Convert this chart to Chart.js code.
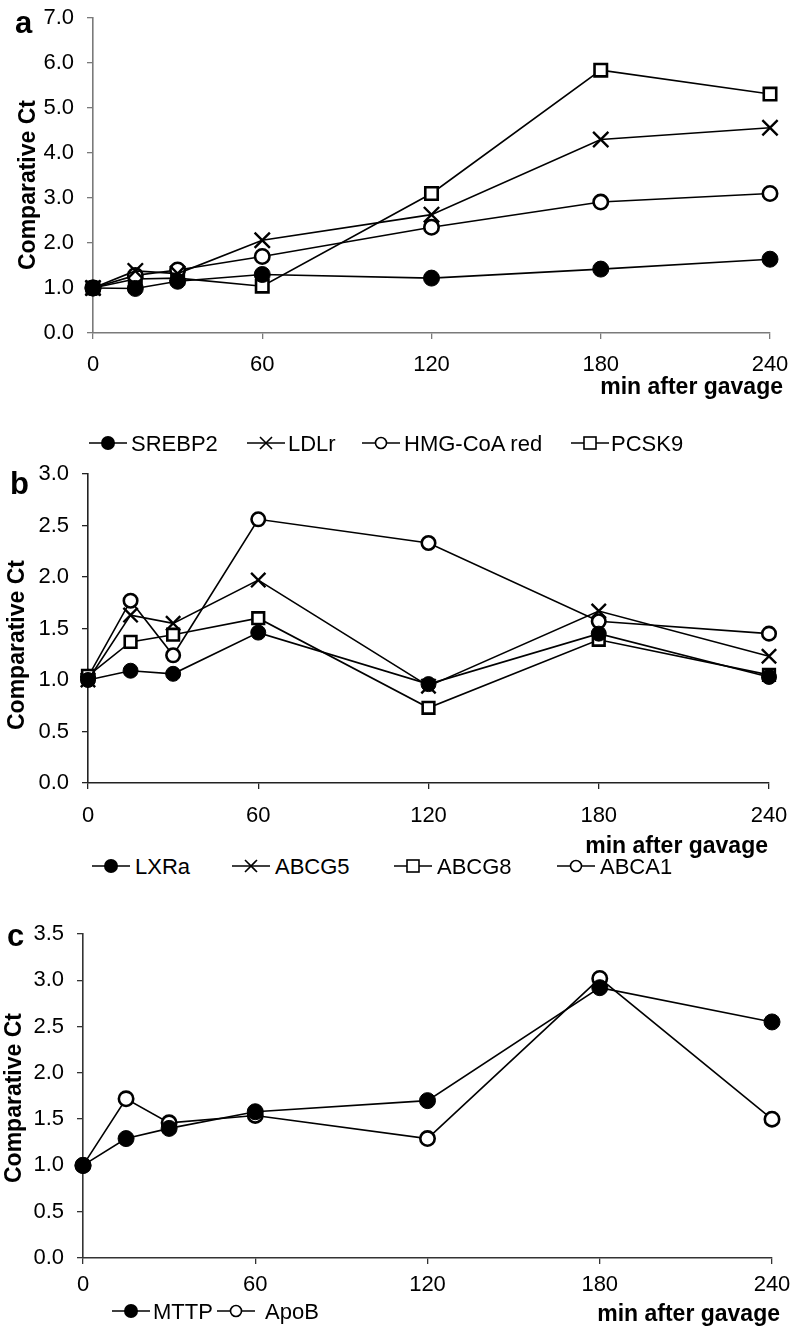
<!DOCTYPE html>
<html>
<head>
<meta charset="utf-8">
<script src="https://cdn.jsdelivr.net/npm/chart.js@4.4.0/dist/chart.umd.min.js"></script>
<style>
  html, body { margin: 0; padding: 0; background: #fff; overflow: hidden; }
  body { width: 793px; height: 1330px; position: relative;
         font-family: "Liberation Sans", Arial, sans-serif; color: #000; }
  canvas { position: absolute; left: 0; }
  .t { position: absolute; white-space: nowrap; line-height: 1; font-size: 22px; }
  .xt { position: absolute; white-space: nowrap; line-height: 1; font-size: 23px; font-weight: bold; }
  .yt { position: absolute; white-space: nowrap; line-height: 1; font-size: 23px; font-weight: bold;
        transform: translate(-50%, -50%) rotate(-90deg); }
  .L { position: absolute; font-weight: bold; font-size: 31px; line-height: 1; }
  svg { position: absolute; }
</style>
</head>
<body>
<canvas id="ca" width="840" height="420" style="top:-20px"></canvas>
<canvas id="cb" width="840" height="400" style="top:440px"></canvas>
<canvas id="cc" width="840" height="430" style="top:900px"></canvas>

<div class="L" style="left:15px;top:7px">a</div>
<div class="L" style="left:10px;top:468px">b</div>
<div class="L" style="left:7px;top:920px">c</div>

<div id="titles"></div>
<div id="legends"></div>

<script>
// ---------- data ----------
const times = [0, 15, 30, 60, 120, 180, 240];

// panel a
const aNames  = ['SREBP2', 'LDLr', 'HMG-CoA red', 'PCSK9'];
const srebp2  = [1.00, 0.99, 1.15, 1.30, 1.22, 1.42, 1.64];
const ldlr    = [1.00, 1.38, 1.32, 2.06, 2.63, 4.30, 4.56];
const hmgcoa  = [1.00, 1.28, 1.40, 1.70, 2.35, 2.91, 3.10];
const pcsk9   = [1.00, 1.20, 1.22, 1.04, 3.10, 5.84, 5.31];

// panel b
const bNames  = ['LXRa', 'ABCG5', 'ABCG8', 'ABCA1'];
const lxra    = [1.00, 1.09, 1.06, 1.46, 0.96, 1.45, 1.03];
const abcg5   = [1.00, 1.63, 1.55, 1.97, 0.94, 1.67, 1.23];
const abcg8   = [1.04, 1.37, 1.44, 1.60, 0.73, 1.39, 1.05];
const abca1   = [1.03, 1.77, 1.24, 2.56, 2.33, 1.57, 1.45];

// panel c
const cNames  = ['MTTP', 'ApoB'];
const mttp    = [1.00, 1.29, 1.40, 1.58, 1.70, 2.92, 2.55];
const apob    = [1.00, 1.72, 1.46, 1.54, 1.29, 3.02, 1.50];

const xLabelText = 'min after gavage';
const yLabelText = 'Comparative Ct';

// ---------- styling ----------
const FONT = '"Liberation Sans", Arial, sans-serif';

function markerStyle(kind, r) {
  if (kind === 'filled') return { pointStyle: 'circle', pointRadius: r, pointBackgroundColor: '#000', pointBorderColor: '#000', pointBorderWidth: 1 };
  if (kind === 'cross')  return { pointStyle: 'crossRot', pointRadius: r * 1.35, pointBackgroundColor: '#000', pointBorderColor: '#000', pointBorderWidth: 2.4 };
  if (kind === 'open')   return { pointStyle: 'circle', pointRadius: r * 0.9, pointBackgroundColor: '#fff', pointBorderColor: '#000', pointBorderWidth: 2.6 };
  if (kind === 'square') return { pointStyle: 'rect', pointRadius: r * 1.1, pointBackgroundColor: '#fff', pointBorderColor: '#000', pointBorderWidth: 2.6 };
}

function makeChart(id, names, series, kinds, cfg) {
  const datasets = names.map((n, i) => Object.assign({
    label: n,
    data: times.map((t, j) => ({ x: t, y: series[i][j] })),
    borderColor: '#000',
    borderWidth: 1.6,
    tension: 0,
    fill: false,
    clip: false,
    pointHoverRadius: 0
  }, markerStyle(kinds[i], cfg.r)));

  const cv = document.getElementById(id);
  const H = cv.height, W = cv.width;
  const X_H = 40;
  return new Chart(cv, {
    type: 'line',
    data: { datasets },
    options: {
      responsive: false,
      devicePixelRatio: 1,
      animation: false,
      events: [],
      layout: { padding: { left: 0, top: cfg.top, right: W - cfg.right, bottom: H - cfg.bottom - X_H } },
      plugins: { legend: { display: false }, tooltip: { enabled: false } },
      scales: {
        x: {
          type: 'linear', min: 0, max: 240,
          afterFit: s => { s.height = X_H; },
          ticks: { stepSize: 60, autoSkip: false, maxRotation: 0, color: '#000', padding: cfg.xPad,
                   font: { family: FONT, size: 22 } },
          grid: { drawOnChartArea: false, drawTicks: true, tickLength: 6, color: cfg.axis, lineWidth: 1.3 },
          border: { display: true, color: cfg.axis, width: 1.6 }
        },
        y: {
          type: 'linear', min: 0, max: cfg.yMax,
          afterFit: s => { s.width = cfg.left; },
          ticks: { stepSize: cfg.yStep, color: '#000', padding: 13,
                   callback: v => Number(v).toFixed(1),
                   font: { family: FONT, size: 22 } },
          grid: { drawOnChartArea: false, drawTicks: true, tickLength: 6, color: cfg.axis, lineWidth: 1.3 },
          border: { display: true, color: cfg.axis, width: 1.6 }
        }
      }
    }
  });
}

// canvas a top -20, b top 440, c top 900 (values below are canvas-relative)
makeChart('ca', aNames, [srebp2, ldlr, hmgcoa, pcsk9], ['filled', 'cross', 'open', 'square'],
  { left: 93, right: 770, top: 18 + 20, bottom: 333 + 20, yMax: 7, yStep: 1, axis: '#7a7a7a', r: 8, xPad: 13 });
makeChart('cb', bNames, [lxra, abcg5, abcg8, abca1], ['filled', 'cross', 'square', 'open'],
  { left: 88, right: 769, top: 474 - 440, bottom: 783 - 440, yMax: 3, yStep: 0.5, axis: '#222', r: 7.5, xPad: 14 });
makeChart('cc', cNames, [mttp, apob], ['filled', 'open'],
  { left: 83, right: 772, top: 934 - 900, bottom: 1258 - 900, yMax: 3.5, yStep: 0.5, axis: '#333', r: 8, xPad: 8 });

// ---------- axis titles ----------
const titleSpots = [
  // [x-title right edge, x-title top, y-title centre x, y-title centre y]
  [783, 375, 27, 185],
  [768, 834, 16, 645],
  [780, 1302, 13, 1098]
];
let th = '';
titleSpots.forEach(([xr, xtop, ycx, ycy]) => {
  th += `<div class="xt" style="right:${793 - xr}px;top:${xtop}px">${xLabelText}</div>`;
  th += `<div class="yt" style="left:${ycx}px;top:${ycy}px">${yLabelText}</div>`;
});
document.getElementById('titles').innerHTML = th;

// ---------- legends (line-through-marker swatches, HTML text) ----------
function swatch(kind) {
  const ln = '<line x1="0" y1="11" x2="38" y2="11" stroke="#000" stroke-width="1.6"/>';
  let m = '';
  if (kind === 'filled') m = '<circle cx="19" cy="11" r="7" fill="#000"/>';
  if (kind === 'open')   m = '<circle cx="19" cy="11" r="5.5" fill="#fff" stroke="#000" stroke-width="1.6"/>';
  if (kind === 'square') m = '<rect x="13" y="5" width="12" height="12" fill="#fff" stroke="#000" stroke-width="1.6"/>';
  if (kind === 'cross')  m = '<path d="M13 5 L25 17 M25 5 L13 17" stroke="#000" stroke-width="1.6"/>';
  return ln + m;
}
const legendItems = [
  // [name, kind, iconLeft, textLeft, top]
  [aNames[0], 'filled', 89, 131, 433], [aNames[1], 'cross', 247, 288, 433],
  [aNames[2], 'open', 362, 404, 433], [aNames[3], 'square', 571, 611, 433],
  [bNames[0], 'filled', 92, 135, 856], [bNames[1], 'cross', 232, 275, 856],
  [bNames[2], 'square', 394, 437, 856], [bNames[3], 'open', 557, 600, 856],
  [cNames[0], 'filled', 112, 153, 1301], [cNames[1], 'open', 217, 265, 1301]
];
let html = '';
legendItems.forEach(([n, k, il, tl, top]) => {
  html += `<svg width="38" height="22" style="left:${il}px;top:${top - 1}px">${swatch(k)}</svg>`;
  html += `<div class="t" style="left:${tl}px;top:${top}px">${n}</div>`;
});
document.getElementById('legends').innerHTML = html;
</script>
</body>
</html>
